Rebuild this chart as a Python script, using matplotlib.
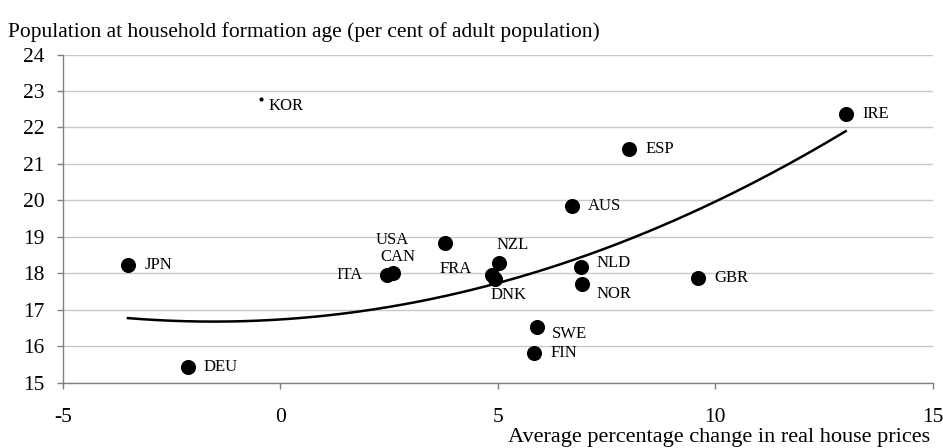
"""Household formation age population vs real house price growth."""

import matplotlib

matplotlib.use("Agg")
import matplotlib.pyplot as plt
import numpy as np

countries = ["JPN", "DEU", "ITA", "CAN", "USA", "FRA", "DNK", "NZL", "SWE", "FIN",
             "AUS", "NLD", "NOR", "ESP", "GBR", "IRE"]
house_price_change = [-3.49, -2.11, 2.46, 2.60, 3.79, 4.88, 4.93, 5.03, 5.91, 5.84,
                      6.71, 6.92, 6.94, 8.02, 9.61, 13.01]
household_age_share = [18.24, 15.43, 17.94, 18.02, 18.82, 17.94, 17.83, 18.27, 16.53, 15.82,
                       19.84, 18.16, 17.72, 21.41, 17.88, 22.37]

outlier_country = "KOR"
outlier_x = -0.44
outlier_y = 22.79

# trend line (polynomial trend)
trend_x = [-3.5, 0.0, 2.0, 5.0, 10.0, 13.0]
trend_y = [16.76, 16.74, 16.98, 17.78, 19.88, 21.94]

# label offsets in pixels (dx, dy, horizontal alignment)
label_pos = {
    "JPN": (16, 0, "left"), "DEU": (15, 0, "left"), "ITA": (-38, 0, "center"),
    "CAN": (5, 16, "center"), "USA": (-53, 3, "center"), "FRA": (-37, 6, "center"),
    "DNK": (14, -16, "center"), "NZL": (14, 18, "center"), "SWE": (15, -7, "left"),
    "FIN": (16, 0, "left"), "AUS": (16, 0, "left"), "NLD": (15, 4, "left"),
    "NOR": (14, -10, "left"), "ESP": (16, 0, "left"), "GBR": (16, 0, "left"),
    "IRE": (16, 0, "left"),
}

plt.rcParams["font.family"] = ["Liberation Serif", "DejaVu Serif"]
plt.rcParams["axes.unicode_minus"] = False

fig = plt.figure(figsize=(9.43, 4.48), dpi=100)
ax = fig.add_axes([0.0665, 0.1458, 0.9225, 0.7325])

ax.set_xlim(-5, 15)
ax.set_ylim(15, 24)
ax.set_xticks([-5, 0, 5, 10, 15])
ax.set_yticks(range(15, 25))
ax.grid(axis="y", color="#c8c8c8", lw=1)
ax.set_axisbelow(True)
for side in ("top", "right"):
    ax.spines[side].set_visible(False)
for side in ("left", "bottom"):
    ax.spines[side].set_color("#7f7f7f")
    ax.spines[side].set_linewidth(1)
ax.tick_params(axis="both", direction="out", length=4, width=1, color="#7f7f7f",
               labelsize=15.5)
ax.tick_params(axis="y", pad=9)
ax.tick_params(axis="x", pad=14)

coef = np.polyfit(trend_x, trend_y, 2)
xs = np.linspace(trend_x[0], trend_x[-1], 200)
ax.plot(xs, np.polyval(coef, xs), color="black", lw=1.8, zorder=2)

ax.scatter(house_price_change, household_age_share, s=118, color="black", zorder=3,
           linewidths=0)
ax.scatter([outlier_x], [outlier_y], s=9, color="black", zorder=3, linewidths=0)

for name, x, y in zip(countries, house_price_change, household_age_share):
    dx, dy, ha = label_pos[name]
    ax.annotate(name, (x, y), xytext=(dx, dy), textcoords="offset pixels",
                ha=ha, va="center", fontsize=12)
ax.annotate(outlier_country, (outlier_x, outlier_y), xytext=(7, -7),
            textcoords="offset pixels", ha="left", va="center", fontsize=12)

fig.text(0.008, 1 - 32 / 448, "Population at household formation age (per cent of adult population)",
         ha="left", va="center", fontsize=15.5)
fig.text(0.986, 1 - 437 / 448, "Average percentage change in real house prices",
         ha="right", va="center", fontsize=16)

fig.savefig("out.png", dpi=100)
